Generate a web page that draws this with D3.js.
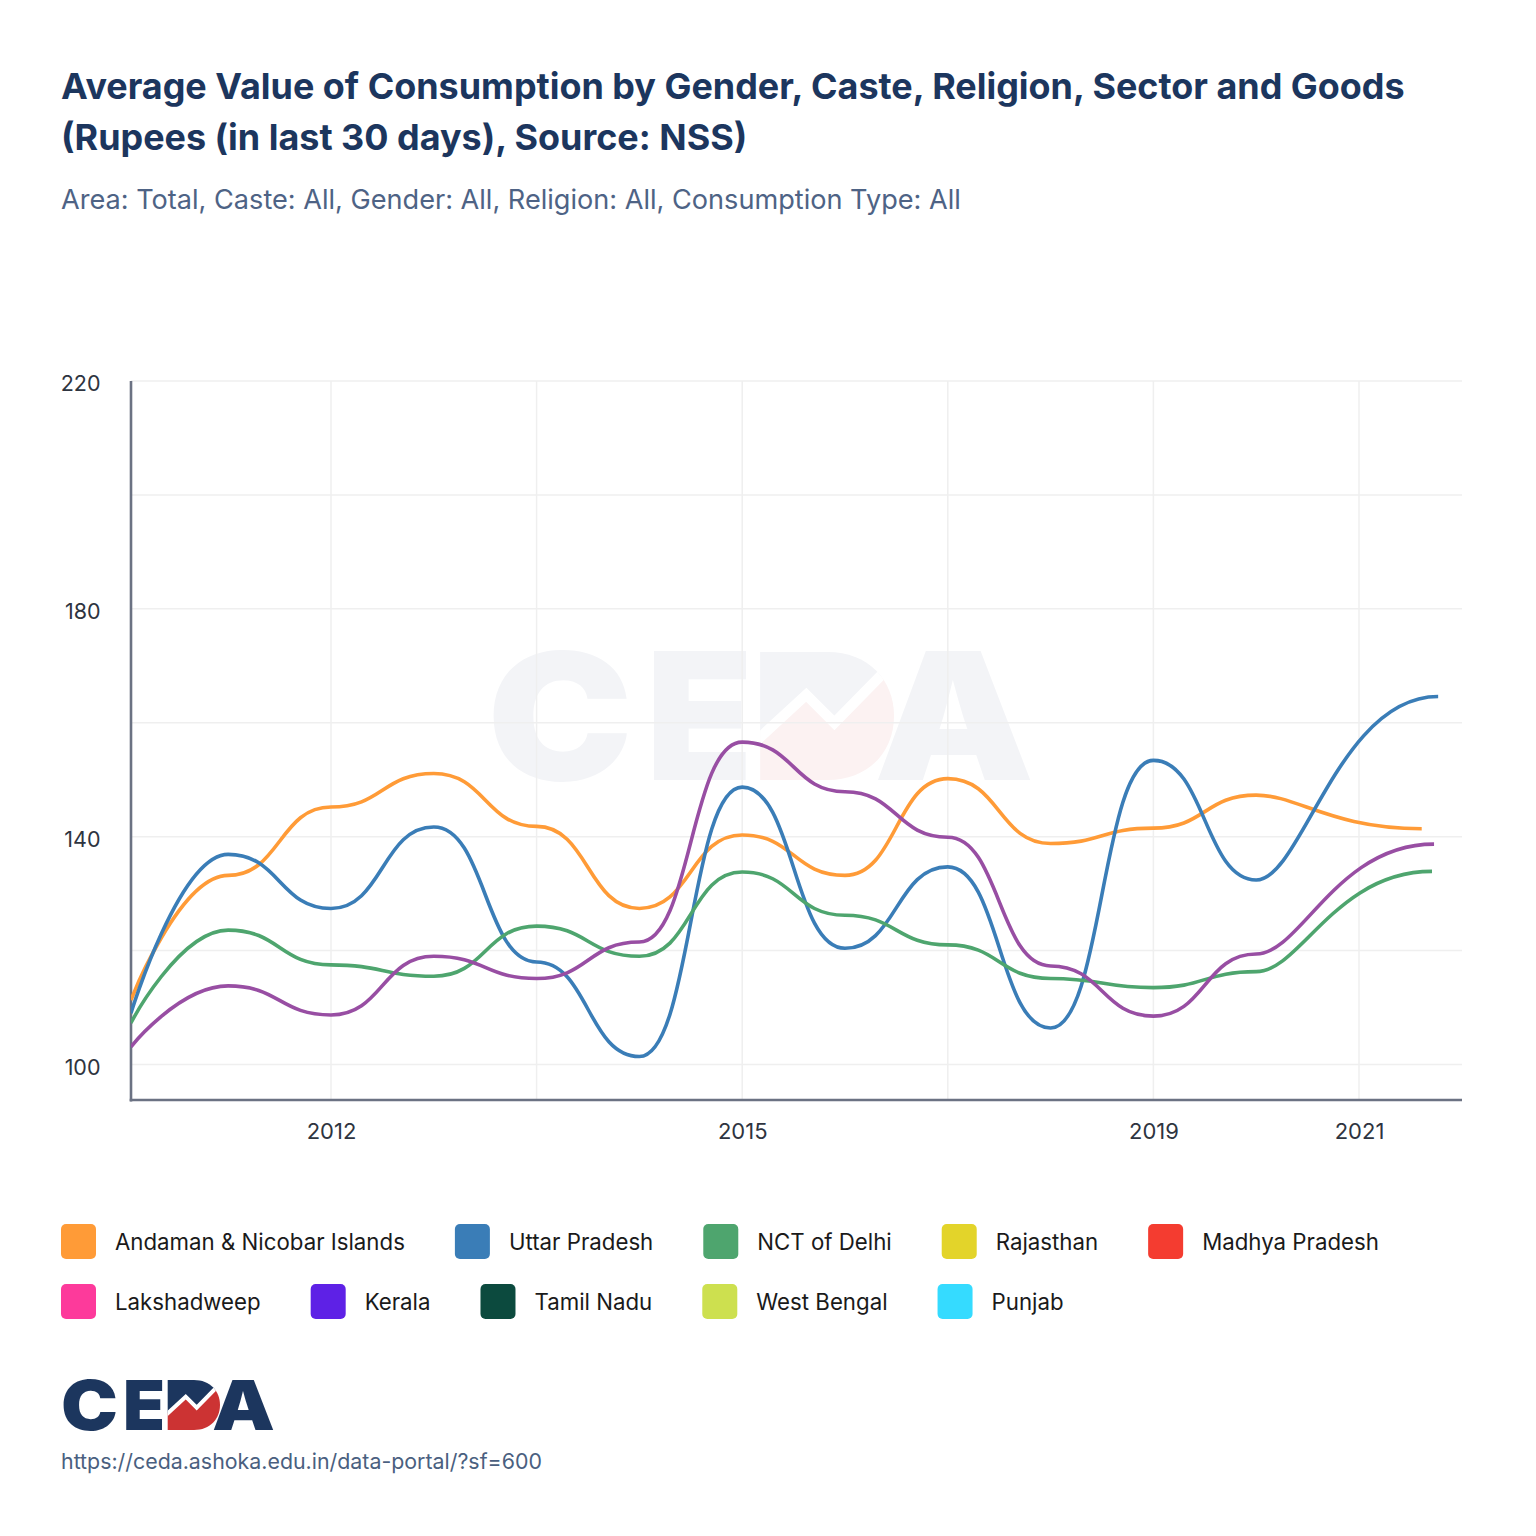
<!DOCTYPE html>
<html><head><meta charset="utf-8">
<script src="https://cdn.jsdelivr.net/npm/d3@7"></script>
<style>
body{margin:0;background:#fff}
svg{display:block;font-family:Inter,"Noto Sans",sans-serif}
</style>
</head><body>
<svg id="chart" width="1536" height="1536"></svg>
<script>
// ---------------- data ----------------
const titleLines = [
  "Average Value of Consumption by Gender, Caste, Religion, Sector and Goods",
  "(Rupees (in last 30 days), Source: NSS)"
];
const subtitleText = "Area: Total, Caste: All, Gender: All, Religion: All, Consumption Type: All";
const sourceUrl = "https://ceda.ashoka.edu.in/data-portal/?sf=600";

// survey period index (shared points) and each series' final period
const periods = [0.054, 1, 2, 3, 4, 5, 6, 7, 8, 9, 10, 11];
const seriesNames = ["Andaman & Nicobar Islands", "Uttar Pradesh", "NCT of Delhi", "Kerala"];
const lastPeriods = [12.61, 12.77, 12.71, 12.73];
const andamanValues = [111.3, 133.2, 145.2, 151.1, 141.8, 127.4, 140.3, 133.2, 150.2, 138.8, 141.5, 147.3, 141.4];
const uttarValues   = [109.0, 136.9, 127.4, 141.7, 118.0, 101.4, 148.7, 120.4, 134.7, 106.4, 153.4, 132.4, 164.6];
const delhiValues   = [107.3, 123.6, 117.5, 115.5, 124.3, 119.0, 133.8, 126.2, 121.0, 115.1, 113.5, 116.3, 133.9];
const keralaValues  = [103.1, 113.8, 108.7, 119.0, 115.1, 121.5, 156.6, 147.9, 139.9, 117.3, 108.5, 119.4, 138.7];
const lineColors = ["#ff9b37", "#3a7db7", "#4ea56e", "#984ea3"];

const legendNames = ["Andaman & Nicobar Islands", "Uttar Pradesh", "NCT of Delhi", "Rajasthan", "Madhya Pradesh",
                     "Lakshadweep", "Kerala", "Tamil Nadu", "West Bengal", "Punjab"];
const legendColors = ["#ff9b37", "#3a7db7", "#4ea56e", "#e3d42a", "#f43c30",
                      "#fd3a9b", "#5e21e6", "#0c4a3e", "#cde04f", "#35dbff"];

const xTickValues = [2, 6, 10, 12];
const xTickLabels = ["2012", "2015", "2019", "2021"];
const xGridValues = [2, 4, 6, 8, 10, 12];
const yTickValues = [100, 140, 180, 220];
const yGridValues = [100, 120, 140, 160, 180, 200, 220];

// ---------------- layout ----------------
const svg = d3.select("#chart");
const plot = {left: 131, right: 1462, top: 381, bottom: 1100};
const x = d3.scaleLinear().domain([0, 12]).range([125.4, 1359]);
const y = d3.scaleLinear().domain([93.77, 220]).range([plot.bottom, plot.top]);

function fitFont(sel, base, target) {
  sel.attr("font-size", base);
  const w = sel.node().getComputedTextLength();
  sel.attr("font-size", (base * target / w).toFixed(2));
}

// smooth curve with horizontal tangents at each point
// (first control collapses on the start point; last segment eases into the end point)
function curveSmoothX(context) {
  let pts;
  return {
    areaStart() {}, areaEnd() {},
    lineStart() { pts = []; },
    point(px, py) { pts.push([+px, +py]); },
    lineEnd() {
      if (!pts.length) return;
      context.moveTo(pts[0][0], pts[0][1]);
      const n = pts.length;
      for (let i = 1; i < n; i++) {
        const [x0, y0] = pts[i - 1], [x1, y1] = pts[i];
        const span = x1 - x0;
        let a = span * 0.5, b = span * 0.5;
        if (i === 1) a = 0;
        if (i === n - 1 && n > 2) { a = span * 0.25; b = span * 0.55; }
        context.bezierCurveTo(x0 + a, y0, x1 - b, y1, x1, y1);
      }
    }
  };
}

// title
const tl1 = svg.append("text").attr("x", 61).attr("y", 99).attr("fill", "#1c365e")
  .attr("font-weight", 700).text(titleLines[0]);
fitFont(tl1, 34, 1344);
svg.append("text").attr("x", 61).attr("y", 150).attr("fill", "#1c365e")
  .attr("font-weight", 700).attr("font-size", tl1.attr("font-size")).text(titleLines[1]);
const st = svg.append("text").attr("x", 61).attr("y", 209).attr("fill", "#4e6385").text(subtitleText);
fitFont(st, 24, 900);

// logo drawing (local frame 214 x 50)
let clipId = 0;
function drawLogo(g, navy, red, gap) {
  const fs = 69;
  g.append("text").attr("x", 0).attr("y", 50).attr("font-size", fs).attr("font-weight", 900)
    .attr("fill", navy).attr("textLength", 57).attr("lengthAdjust", "spacingAndGlyphs").text("C");
  g.append("text").attr("x", 62).attr("y", 50).attr("font-size", fs).attr("font-weight", 900)
    .attr("fill", navy).attr("textLength", 42).attr("lengthAdjust", "spacingAndGlyphs").text("E");
  g.append("text").attr("x", 151).attr("y", 50).attr("font-size", fs).attr("font-weight", 900)
    .attr("fill", navy).attr("textLength", 63).attr("lengthAdjust", "spacingAndGlyphs").text("A");
  const dPath = "M106.7,0 H133 C149,0 159,11 159,25 C159,39 149,50 133,50 H106.7 Z";
  const zig = [[100, 39.5], [124.7, 16.7], [135.7, 27.7], [175, -12.4]];
  const idA = "lg" + (clipId++), idB = "lg" + (clipId++), idD = "lg" + (clipId++);
  const defs = g.append("defs");
  defs.append("clipPath").attr("id", idA).append("polygon")
    .attr("points", [[100, -20], [175, -20]].concat(zig.slice().reverse()).map(p => p.join(",")).join(" "));
  defs.append("clipPath").attr("id", idB).append("polygon")
    .attr("points", zig.concat([[175, 60], [100, 60]]).map(p => p.join(",")).join(" "));
  defs.append("clipPath").attr("id", idD).append("path").attr("d", dPath);
  g.append("path").attr("d", dPath).attr("fill", navy).attr("clip-path", `url(#${idA})`);
  g.append("path").attr("d", dPath).attr("fill", red).attr("clip-path", `url(#${idB})`);
  g.append("polyline").attr("points", zig.map(p => p.join(",")).join(" "))
    .attr("fill", "none").attr("stroke", gap).attr("stroke-width", 4).attr("clip-path", `url(#${idD})`);
}

// watermark
drawLogo(svg.append("g").attr("transform", "translate(487,652) scale(2.56)"), "#f3f4f7", "#fcf2f2", "#ffffff");

// grid
const grid = svg.append("g");
grid.selectAll("line.h").data(yGridValues).join("line")
  .attr("x1", plot.left).attr("x2", plot.right)
  .attr("y1", d => y(d)).attr("y2", d => y(d))
  .attr("stroke", "#efefef").attr("stroke-width", 1.5);
grid.selectAll("line.v").data(xGridValues).join("line")
  .attr("y1", plot.top).attr("y2", plot.bottom)
  .attr("x1", d => x(d)).attr("x2", d => x(d))
  .attr("stroke", "#efefef").attr("stroke-width", 1.5);

// axes
const axisColor = "#6b7283";
svg.append("line").attr("x1", plot.left).attr("x2", plot.left).attr("y1", plot.top).attr("y2", plot.bottom + 1.5)
  .attr("stroke", axisColor).attr("stroke-width", 2.6);
svg.append("line").attr("x1", plot.left - 1.3).attr("x2", plot.right).attr("y1", plot.bottom).attr("y2", plot.bottom)
  .attr("stroke", axisColor).attr("stroke-width", 2.6);

const yAxis = d3.axisLeft(y).tickValues(yTickValues).tickSize(0).tickPadding(0).tickFormat(d3.format("d"));
const yg = svg.append("g").attr("transform", "translate(100.5,0)").call(yAxis);
yg.select(".domain").remove();
yg.selectAll("text").attr("font-family", "Inter").attr("font-size", 21.5).attr("fill", "#2e3440").attr("dy", "0.45em");

const xAxis = d3.axisBottom(x).tickValues(xTickValues).tickSize(0).tickPadding(0)
  .tickFormat((d, i) => xTickLabels[i]);
const xg = svg.append("g").attr("transform", `translate(0,${plot.bottom + 23.5})`).call(xAxis);
xg.select(".domain").remove();
xg.selectAll("text").attr("font-family", "Inter").attr("font-size", 22).attr("fill", "#2e3440").attr("dy", "0.71em");

// lines
svg.append("defs").append("clipPath").attr("id", "plotclip").append("rect")
  .attr("x", plot.left).attr("y", plot.top - 10).attr("width", plot.right - plot.left).attr("height", plot.bottom - plot.top + 10);
const allValues = [andamanValues, uttarValues, delhiValues, keralaValues];
const series = seriesNames.map((name, i) => ({
  name, color: lineColors[i],
  points: periods.concat([lastPeriods[i]]).map((p, j) => ({p, v: allValues[i][j]}))
}));
const line = d3.line().x(d => x(d.p)).y(d => y(d.v)).curve(curveSmoothX);
svg.append("g").attr("clip-path", "url(#plotclip)").selectAll("path").data(series).join("path")
  .attr("d", d => line(d.points)).attr("fill", "none").attr("stroke", d => d.color)
  .attr("stroke-width", 3.6).attr("stroke-linejoin", "round");

// legend
const legend = svg.append("g");
const probe = legend.append("text").attr("font-size", 21).text(legendNames[0]);
const legendFont = 21 * 290 / probe.node().getComputedTextLength();
probe.remove();
const perRow = 5;
let lx = 61, row = 0;
legendNames.forEach((name, i) => {
  if (i > 0 && i % perRow === 0) { row++; lx = 61; }
  const ly = 1224 + row * 60;
  legend.append("rect").attr("x", lx).attr("y", ly).attr("width", 35).attr("height", 35)
    .attr("rx", 5).attr("fill", legendColors[i]);
  const t = legend.append("text").attr("x", lx + 54).attr("y", ly + 26).attr("font-size", legendFont)
    .attr("fill", "#1a1a1a").text(name);
  lx += 54 + t.node().getComputedTextLength() + 50;
});

// footer logo + url
drawLogo(svg.append("g").attr("transform", "translate(61,1380)"), "#1c365e", "#cc3333", "#ffffff");
const url = svg.append("text").attr("x", 61).attr("y", 1469).attr("fill", "#4a5f80").text(sourceUrl);
fitFont(url, 20, 481);
</script>
</body></html>
